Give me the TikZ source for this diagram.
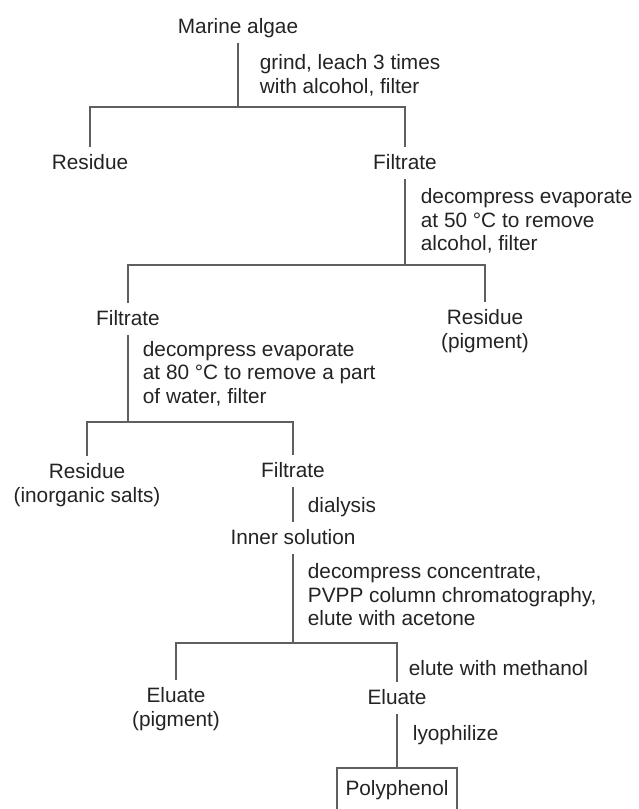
\documentclass[tikz,border=0pt]{standalone}
\usepackage{fontspec}
\setmainfont{Liberation Sans}
\definecolor{linegray}{RGB}{95,95,95}
\definecolor{textgray}{RGB}{35,35,35}
\begin{document}
\begin{tikzpicture}
  [x=1pt,y=-1pt,line width=1.8pt,draw=linegray,
   every node/.style={text=textgray,font=\fontsize{20.8}{23.5}\selectfont},
   stage/.style={inner xsep=2pt,inner ysep=4pt,text height=18pt,text depth=4.5pt},
   stagetwo/.style={anchor=north,align=center,inner xsep=2pt,inner ysep=7pt},
   note/.style={anchor=west,align=left,inner sep=0pt},
   endbox/.style={stage,draw=linegray,line width=1.8pt,minimum width=120pt,minimum height=42pt}]
  \useasboundingbox (0,0) rectangle (639,809);
  % stages
  \node[stage] (ma) at (238,27) {Marine algae};
  \node[stage] (r1) at (90,163) {Residue};
  \node[stage] (f1) at (405,163) {Filtrate};
  \node[stage] (f2) at (128,319) {Filtrate};
  \node[stagetwo] (r2) at (485,302) {Residue\\(pigment)};
  \node[stagetwo] (r3) at (87,456) {Residue\\(inorganic salts)};
  \node[stage] (f3) at (293,471) {Filtrate};
  \node[stage] (is) at (293,538) {Inner solution};
  \node[stagetwo] (e1) at (176,680) {Eluate\\(pigment)};
  \node[stage] (e2) at (397,698) {Eluate};
  \node[endbox] (pp) at (397,789) {Polyphenol};
  % branch points
  \coordinate (j1) at (238,107);
  \coordinate (j2) at (405,265);
  \coordinate (j3) at (128,422);
  \coordinate (j4) at (293,643);
  % steps
  \node[note] (s1) at (259,75.5) {grind, leach 3 times\\with alcohol, filter};
  \node[note] (s2) at (420,221) {decompress evaporate\\at 50 °C to remove\\alcohol, filter};
  \node[note] (s3) at (142,373.5) {decompress evaporate\\at 80 °C to remove a part\\of water, filter};
  \node[note] (s4) at (307,507) {dialysis};
  \node[note] (s5) at (307,595) {decompress concentrate,\\PVPP column chromatography,\\elute with acetone};
  \node[note] (s6) at (408,668) {elute with methanol};
  \node[note] (s7) at (412,735) {lyophilize};
  % connectors
  \foreach \from/\to in {ma/j1,f1/j2,f2/j3,f3/is,is/j4,e2/pp}
    \draw (\from) -- (\to);
  \foreach \lft/\jn/\rgt in {r1/j1/f1,f2/j2/r2,r3/j3/f3,e1/j4/e2}
    \draw (\lft) |- (\jn) -| (\rgt);
\end{tikzpicture}
\end{document}
